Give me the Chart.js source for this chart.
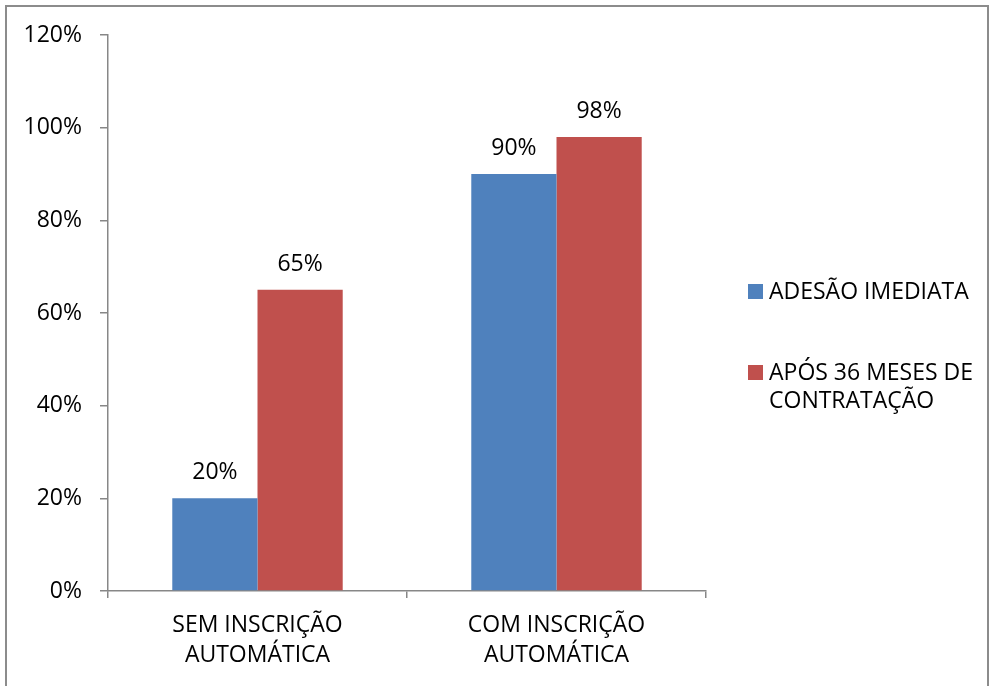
<!DOCTYPE html>
<html lang="pt">
<head>
<meta charset="utf-8">
<title>Adesão com e sem inscrição automática</title>
<script src="https://cdn.jsdelivr.net/npm/chart.js@4.4.1/dist/chart.umd.min.js"></script>
<style>
  html, body { margin: 0; padding: 0; background: #ffffff; }
  #wrap { position: relative; width: 990px; height: 686px; }
</style>
</head>
<body>
<div id="wrap"><canvas id="chart" width="990" height="686"></canvas></div>
<script>
// Categories (two-line labels) and series values, in percent
const categories = [
  ['SEM INSCRIÇÃO', 'AUTOMÁTICA'],
  ['COM INSCRIÇÃO', 'AUTOMÁTICA']
];
const seriesNames = [
  ['ADESÃO IMEDIATA'],
  ['APÓS 36 MESES DE', 'CONTRATAÇÃO']
];
const adesaoImediata = [20, 90];
const apos36Meses = [65, 98];
const yTicks = [0, 20, 40, 60, 80, 100, 120];

const FONT = '"Open Sans", "Noto Sans", sans-serif';
const FONT_SIZE = 23;
const AXIS_GREY = '#878787';

// Thin grey frame around the whole chart
const framePlugin = {
  id: 'frame',
  beforeDraw(chart) {
    const ctx = chart.ctx;
    ctx.save();
    ctx.fillStyle = '#ffffff';
    ctx.fillRect(0, 0, chart.width, chart.height);
    ctx.strokeStyle = '#8c8c8c';
    ctx.lineWidth = 2;
    ctx.beginPath();
    ctx.moveTo(6, chart.height + 10);
    ctx.lineTo(6, 6);
    ctx.lineTo(chart.width - 2, 6);
    ctx.lineTo(chart.width - 2, chart.height + 10);
    ctx.stroke();
    ctx.restore();
  }
};

// Value labels above each bar
const valueLabels = {
  id: 'valueLabels',
  afterDatasetsDraw(chart) {
    const ctx = chart.ctx;
    ctx.save();
    ctx.font = FONT_SIZE + 'px ' + FONT;
    ctx.fillStyle = '#000000';
    ctx.textAlign = 'center';
    ctx.textBaseline = 'alphabetic';
    chart.data.datasets.forEach((ds, i) => {
      chart.getDatasetMeta(i).data.forEach((bar, j) => {
        ctx.fillText(ds.data[j] + '%', bar.x, bar.y - 19);
      });
    });
    ctx.restore();
  }
};

// Legend at the right of the plot, one square swatch per series
const sideLegend = {
  id: 'sideLegend',
  afterDraw(chart) {
    const ctx = chart.ctx;
    const x0 = chart.chartArea.right + 42;
    let y = 284;
    ctx.save();
    ctx.font = FONT_SIZE + 'px ' + FONT;
    ctx.textAlign = 'left';
    ctx.textBaseline = 'alphabetic';
    chart.data.datasets.forEach((ds) => {
      ctx.fillStyle = ds.backgroundColor;
      ctx.fillRect(x0, y, 15, 15);
      ctx.fillStyle = '#000000';
      ds.label.forEach((line, k) => {
        ctx.fillText(line, x0 + 21, y + 15 + k * 28);
      });
      y += 81;
    });
    ctx.restore();
  }
};

new Chart(document.getElementById('chart'), {
  type: 'bar',
  data: {
    labels: categories,
    datasets: [
      { label: seriesNames[0], data: adesaoImediata, backgroundColor: '#4F81BD' },
      { label: seriesNames[1], data: apos36Meses, backgroundColor: '#C0504D' }
    ]
  },
  options: {
    responsive: false,
    animation: false,
    layout: { padding: { left: 0, top: 35, right: 284, bottom: 0 } },
    datasets: {
      bar: { categoryPercentage: 0.57, barPercentage: 1.0, borderWidth: 0 }
    },
    plugins: {
      legend: { display: false },
      tooltip: { enabled: false }
    },
    scales: {
      x: {
        offset: true,
        grid: {
          offset: true,
          drawOnChartArea: false,
          drawTicks: true,
          tickLength: 7,
          color: AXIS_GREY,
          lineWidth: 1.5
        },
        border: { display: true, color: AXIS_GREY, width: 1.5 },
        ticks: {
          color: '#000000',
          font: { family: FONT, size: FONT_SIZE, lineHeight: 1.3 },
          padding: 13,
          maxRotation: 0,
          autoSkip: false
        },
        afterFit(scale) { scale.height = 95; }
      },
      y: {
        min: 0,
        max: 120,
        afterBuildTicks(scale) { scale.ticks = yTicks.map(v => ({ value: v })); },
        grid: {
          drawOnChartArea: false,
          drawTicks: true,
          tickLength: 8,
          color: AXIS_GREY,
          lineWidth: 1.5
        },
        border: { display: true, color: AXIS_GREY, width: 1.5 },
        ticks: {
          color: '#000000',
          font: { family: FONT, size: FONT_SIZE },
          padding: 18,
          callback: (v) => v + '%'
        },
        afterFit(scale) { scale.width = 108; }
      }
    }
  },
  plugins: [framePlugin, valueLabels, sideLegend]
});
</script>
</body>
</html>
